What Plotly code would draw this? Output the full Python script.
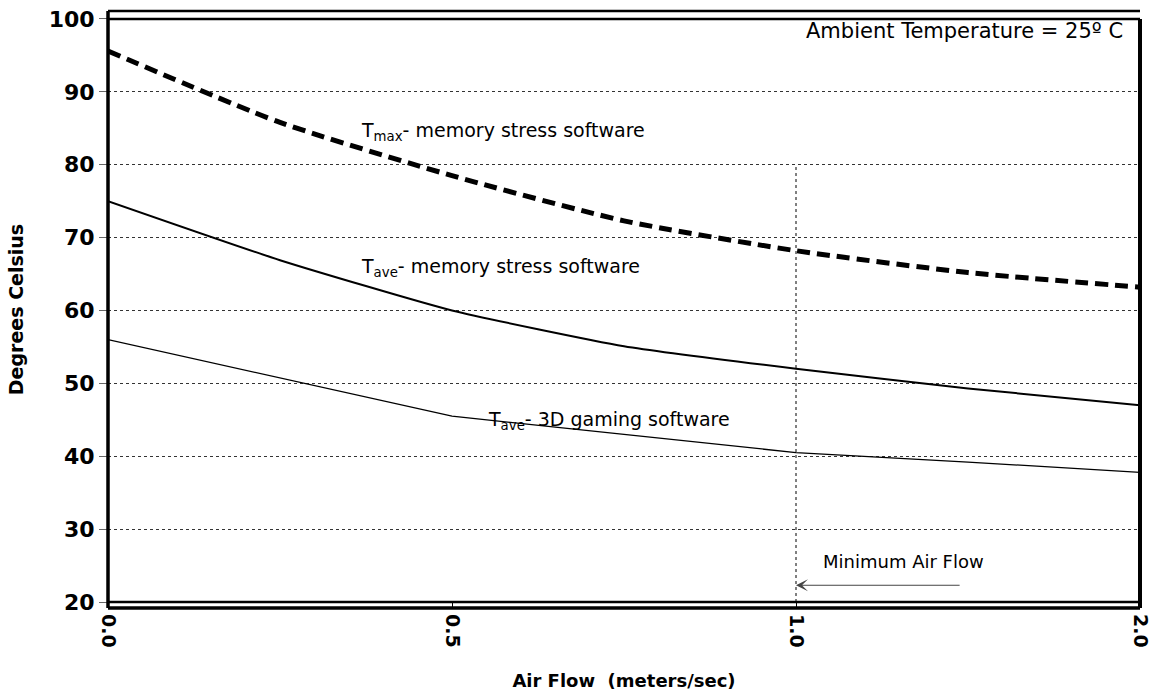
import plotly.graph_objects as go

# category positions on the x axis (equally spaced labels 0.0, 0.5, 1.0, 2.0)
tick_pos = [0, 1, 2, 3]
tick_labels = ["0.0", "0.5", "1.0", "2.0"]

# sample positions along the category axis
x_pos = [0, 0.5, 1, 1.5, 2, 2.5, 3]

tmax_memory = [95.6, 85.8, 78.5, 72.3, 68.2, 65.2, 63.2]
tave_memory = [75.0, 66.9, 60.0, 55.1, 52.0, 49.3, 47.0]
tave_gaming = [56.0, 50.8, 45.5, 43.0, 40.5, 39.2, 37.8]

y_ticks = [20, 30, 40, 50, 60, 70, 80, 90, 100]

FONT = "DejaVu Sans"

fig = go.Figure()
fig.add_trace(go.Scatter(x=x_pos, y=tmax_memory, mode="lines",
                         line=dict(color="black", width=5, dash="13px,7px", shape="spline", smoothing=0.6),
                         name="Tmax memory stress", showlegend=False, hoverinfo="skip"))
fig.add_trace(go.Scatter(x=x_pos, y=tave_memory, mode="lines",
                         line=dict(color="black", width=2, shape="spline", smoothing=0.5),
                         name="Tave memory stress", showlegend=False, hoverinfo="skip"))
fig.add_trace(go.Scatter(x=x_pos, y=tave_gaming, mode="lines",
                         line=dict(color="black", width=1.3),
                         name="Tave 3D gaming", showlegend=False, hoverinfo="skip"))

y_lo, y_hi = 19.18, 101.09

shapes = [
    # solid lines at 20 and 100
    dict(type="line", xref="paper", yref="y", x0=0, x1=1, y0=100, y1=100, line=dict(color="black", width=2.5)),
    dict(type="line", xref="paper", yref="y", x0=0, x1=1, y0=20, y1=20, line=dict(color="black", width=2.5)),
    # frame
    dict(type="line", xref="paper", yref="paper", x0=0, x1=1, y0=1, y1=1, line=dict(color="black", width=2.5)),
    dict(type="line", xref="paper", yref="paper", x0=0, x1=1, y0=0, y1=0, line=dict(color="black", width=3.5)),
    dict(type="line", xref="paper", yref="paper", x0=0, x1=0, y0=0, y1=1, line=dict(color="black", width=3.5)),
    dict(type="line", xref="paper", yref="y", x0=1, x1=1, y0=y_lo, y1=100, line=dict(color="black", width=4)),
    # minimum air flow marker
    dict(type="line", xref="x", yref="y", x0=2, x1=2, y0=20, y1=80, line=dict(color="black", width=1, dash="dot")),
]

ann_font = dict(family=FONT, size=19, color="black")
annotations = [
    dict(x=0.729, y=84.6, xref="x", yref="y", xanchor="left", yanchor="middle", showarrow=False,
         text="T<sub>max</sub>- memory stress software", font=ann_font),
    dict(x=0.729, y=65.9, xref="x", yref="y", xanchor="left", yanchor="middle", showarrow=False,
         text="T<sub>ave</sub>- memory stress software", font=ann_font),
    dict(x=1.1, y=44.9, xref="x", yref="y", xanchor="left", yanchor="middle", showarrow=False,
         text="T<sub>ave</sub>- 3D gaming software", font=ann_font),
    dict(x=2.955, y=98.4, xref="x", yref="y", xanchor="right", yanchor="middle", showarrow=False,
         text="Ambient Temperature = 25º C", font=dict(family=FONT, size=21, color="black")),
    dict(x=2.074, y=25.6, xref="x", yref="y", xanchor="left", yanchor="middle", showarrow=False,
         text="Minimum Air Flow", font=dict(family=FONT, size=18, color="black")),
    dict(x=2.0, y=22.3, xref="x", yref="y", ax=2.48, ay=22.3, axref="x", ayref="y",
         showarrow=True, arrowhead=3, arrowsize=2, arrowwidth=1, arrowcolor="#444", text=""),
]

fig.update_layout(
    width=1159, height=694,
    margin=dict(l=108, r=11, t=7, b=85),
    paper_bgcolor="white", plot_bgcolor="white",
    shapes=shapes, annotations=annotations,
    xaxis=dict(range=[0, 3], tickvals=tick_pos, ticktext=tick_labels, tickangle=90,
               showgrid=False, zeroline=False, showline=False, ticklabeloverflow="allow",
               ticks="inside", ticklen=5, tickcolor="black", ticklabelstandoff=5,
               tickfont=dict(family=FONT, size=19, color="black", weight="bold"),
               title=dict(text="<b>Air Flow  (meters/sec)</b>", font=dict(family=FONT, size=18, color="black"),
                          standoff=27)),
    yaxis=dict(range=[y_lo, y_hi], tickvals=y_ticks, showgrid=True, gridcolor="#333",
               griddash="dot", gridwidth=1, zeroline=False, showline=False,
               ticks="outside", ticklen=8, tickcolor="#666",
               tickfont=dict(family=FONT, size=22, color="black", weight="bold"),
               title=dict(text="<b>Degrees Celsius</b>", font=dict(family=FONT, size=19, color="black"),
                          standoff=20)),
)

fig.write_html("out.html", config={"displayModeBar": False},
               post_script="document.body.style.margin='0px';")
